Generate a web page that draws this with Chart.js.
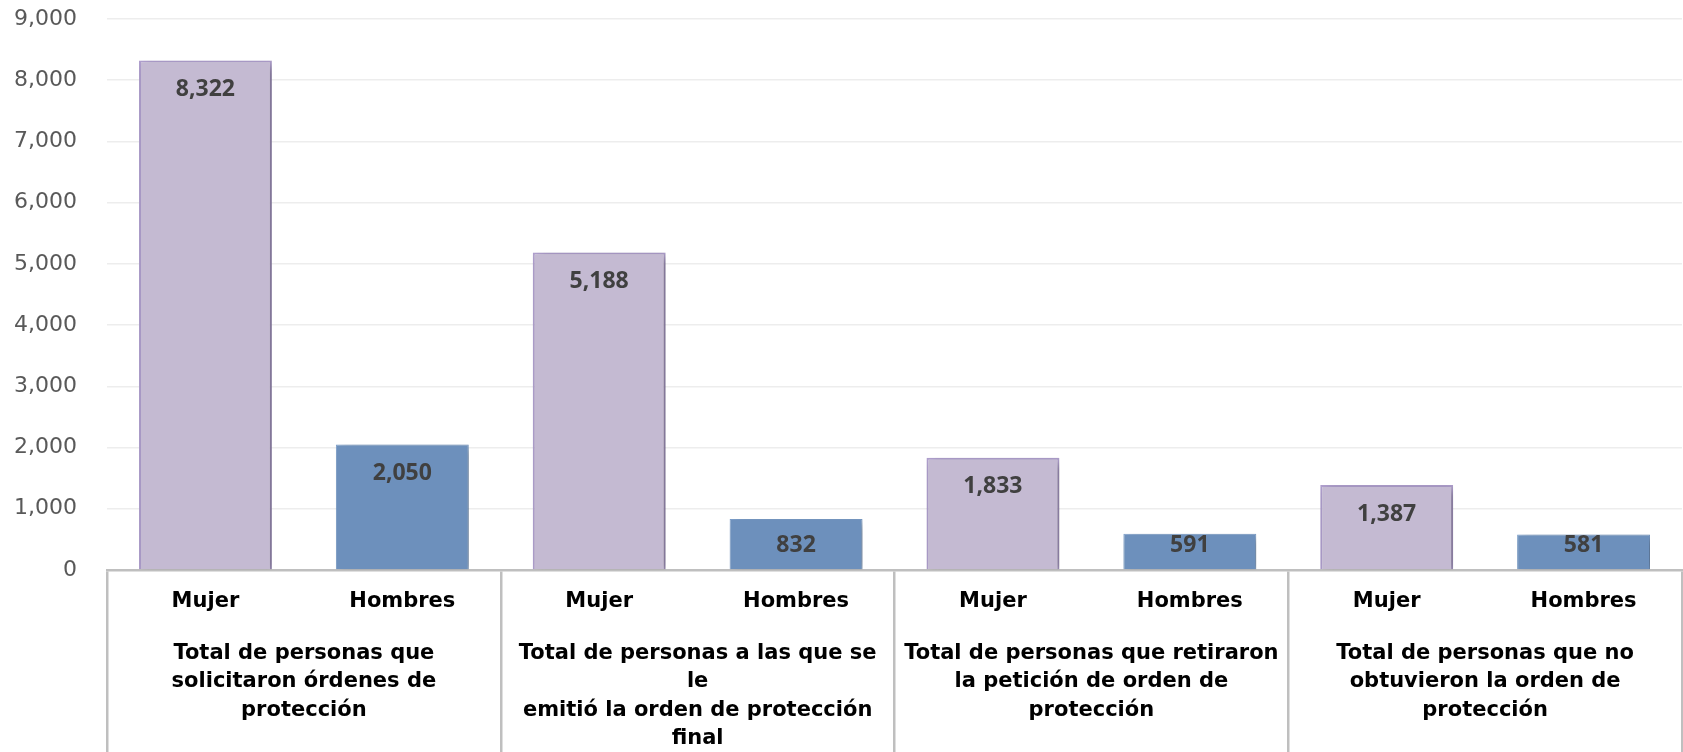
<!DOCTYPE html>
<html>
<head>
<meta charset="utf-8">
<script src="https://cdn.jsdelivr.net/npm/chart.js@4"></script>
<style>
  body { margin: 0; background: #fff; }
  #wrap { width: 1683px; height: 752px; }
</style>
</head>
<body>
<div id="wrap"><canvas id="chart"></canvas></div>
<script>
// categories (multi-line labels as they wrap in the picture)
var groups = [
  ['Total de personas que', 'solicitaron órdenes de', 'protección'],
  ['Total de personas a las que se', 'le', 'emitió la orden de protección', 'final'],
  ['Total de personas que retiraron', 'la petición de orden de', 'protección'],
  ['Total de personas que no', 'obtuvieron la orden de', 'protección']
];
var seriesNames = ['Mujer', 'Hombres'];
var mujer   = [8322, 5188, 1833, 1387];
var hombres = [2050, 832, 591, 581];
var yTicks  = [0, 1000, 2000, 3000, 4000, 5000, 6000, 7000, 8000, 9000];

var FONT = '"DejaVu Sans", sans-serif';
var NUMFONT = '"Open Sans", "DejaVu Sans", sans-serif';

function fmt(v) {
  return v.toLocaleString('en-US');
}

/*
 * soft drop shadow under the bars
 */
var shadowPlugin = {
  id: 'barShadow',
  beforeDatasetsDraw: function(chart) {
    var ctx = chart.ctx;
    ctx.save();
    ctx.shadowColor = 'rgba(0,0,0,0.35)';
    ctx.shadowBlur = 9;
    ctx.shadowOffsetX = 4;
    ctx.shadowOffsetY = 3;
  },
  afterDatasetsDraw: function(chart) {
    chart.ctx.restore();
  }
};

/*
 * value labels inside bars + series name row under the axis
 */
var labelPlugin = {
  id: 'barLabels',
  afterDraw: function(chart) {
    var ctx = chart.ctx;
    var base = chart.scales.y.getPixelForValue(0);
    ctx.save();
    ctx.textAlign = 'center';
    ctx.textBaseline = 'middle';
    chart.data.datasets.forEach(function(ds, di) {
      var meta = chart.getDatasetMeta(di);
      meta.data.forEach(function(bar, i) {
        ctx.font = 'bold 23px ' + NUMFONT;
        ctx.fillStyle = '#404040';
        var y = Math.min(bar.y + 29, base - 25);
        ctx.fillText(fmt(ds.data[i]), bar.x, y);

        ctx.font = 'bold 21px ' + FONT;
        ctx.fillStyle = '#000';
        ctx.fillText(ds.label, bar.x, base + 32);
      });
    });
    ctx.restore();
  }
};

chart = new Chart('chart', {
  type: 'bar',
  data: {
    labels: groups,
    datasets: [{
      label: seriesNames[0],
      data: mujer,
      backgroundColor: '#C4BAD2',
      borderColor: '#B0A0CE',
      borderWidth: 2,
      barPercentage: 0.675,
      categoryPercentage: 1
    }, {
      label: seriesNames[1],
      data: hombres,
      backgroundColor: '#6D90BC',
      borderColor: '#7C9FCB',
      borderWidth: 1,
      barPercentage: 0.675,
      categoryPercentage: 1
    }]
  },
  options: {
    responsive: true,
    maintainAspectRatio: false,
    animation: false,
    layout: { padding: { top: 19, right: 1, left: 0, bottom: 0 } },
    plugins: {
      legend: { display: false },
      tooltip: { enabled: false }
    },
    scales: {
      x: {
        offset: true,
        grid: {
          offset: true,
          drawOnChartArea: false,
          drawTicks: true,
          tickLength: 182,
          color: '#BFBFBF',
          lineWidth: 2.5
        },
        border: { display: true, color: '#BFBFBF', width: 2.5 },
        ticks: {
          color: '#000',
          font: { family: FONT, size: 21, weight: 'bold', lineHeight: 1.36 },
          padding: -113,
          maxRotation: 0,
          autoSkip: false
        },
        afterFit: function(scale) { scale.height = 182; }
      },
      y: {
        min: yTicks[0],
        max: yTicks[yTicks.length - 1],
        afterBuildTicks: function(scale) {
          scale.ticks = yTicks.map(function(v) { return { value: v }; });
        },
        grid: { color: '#EDEDED', lineWidth: 1.5, drawTicks: false },
        border: { display: false },
        ticks: {
          color: '#595959',
          padding: 30,
          font: { family: FONT, size: 22 },
          callback: function(v) { return fmt(v); }
        },
        afterFit: function(scale) {
          scale.width = 107;
          scale.paddingTop = 0;
          scale.paddingBottom = 0;
        }
      }
    }
  },
  plugins: [shadowPlugin, labelPlugin]
});
</script>
</body>
</html>
